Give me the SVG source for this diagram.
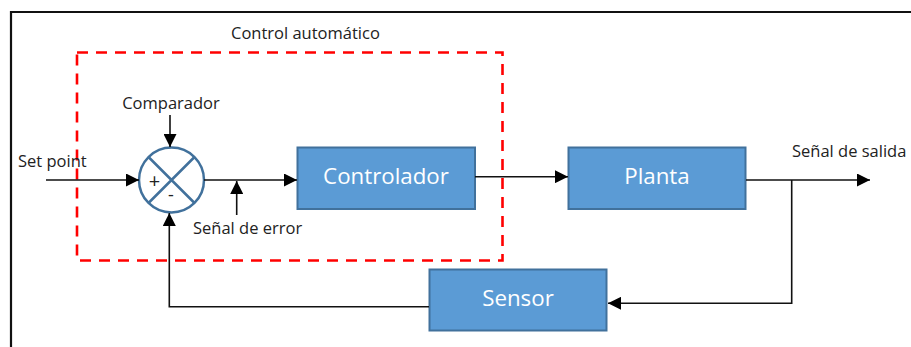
<svg xmlns="http://www.w3.org/2000/svg" width="911" height="347" viewBox="0 0 911 347">
  <style>
    .label { font-family: "Open Sans", "Liberation Sans", sans-serif; font-size: 16.5px; fill: #222; }
    .sign { font-family: "Open Sans", "Liberation Sans", sans-serif; fill: #222; text-anchor: middle; }
    .block { fill: #5B9BD5; stroke: #41719C; stroke-width: 2; }
    .block-text { font-family: "Open Sans", "Liberation Sans", sans-serif; font-size: 22.3px; fill: #fff; text-anchor: middle; }
    .wire { fill: none; stroke: #111; stroke-width: 1.6; }
  </style>
  <defs>
    <marker id="arrow" viewBox="0 0 10 10" refX="10" refY="5" markerWidth="13" markerHeight="13" markerUnits="userSpaceOnUse" orient="auto">
      <path d="M0,0 L10,5 L0,10 Z" fill="#000"/>
    </marker>
  </defs>

  <rect width="911" height="347" fill="#fff"/>
  <!-- outer frame -->
  <path d="M11,347 L11,12 L911,12" fill="none" stroke="#111" stroke-width="2.2"/>

  <!-- automatic control boundary -->
  <g id="control-automatico">
    <rect x="77" y="52.5" width="425.5" height="208" fill="none" stroke="#FF0000" stroke-width="2.6" stroke-dasharray="11,8"/>
    <text class="label" x="231" y="39">Control automático</text>
  </g>

  <!-- comparator -->
  <g id="comparador">
    <circle cx="171.5" cy="180" r="32.5" fill="#fff" stroke="#41719C" stroke-width="2.5"/>
    <path d="M148.5,157 L194.5,203 M194.5,157 L148.5,203" stroke="#41719C" stroke-width="2.5"/>
    <text class="sign" x="154.5" y="187.5" style="font-size:20px">+</text>
    <text class="sign" x="171" y="201" style="font-size:18px">-</text>
    <text class="label" x="171" y="109" text-anchor="middle">Comparador</text>
  </g>

  <g id="controlador">
    <rect class="block" x="297.5" y="147.5" width="177.5" height="61.5"/>
    <text class="block-text" x="386" y="184">Controlador</text>
  </g>

  <g id="planta">
    <rect class="block" x="568.5" y="147.5" width="177" height="61.5"/>
    <text class="block-text" x="657" y="184">Planta</text>
  </g>

  <g id="sensor">
    <rect class="block" x="429.5" y="269.5" width="177" height="61"/>
    <text class="block-text" x="518" y="306">Sensor</text>
  </g>

  <!-- signal labels -->
  <g id="labels">
    <text class="label" x="18" y="167">Set point</text>
    <text class="label" x="193" y="234">Señal de error</text>
    <text class="label" x="792" y="157">Señal de salida</text>
  </g>

  <!-- connectors -->
  <g id="connectors">
    <path class="wire" d="M46,180 L139,180" marker-end="url(#arrow)"/>
    <path class="wire" d="M170,115 L170,147" marker-end="url(#arrow)"/>
    <path class="wire" d="M204,180 L297,180" marker-end="url(#arrow)"/>
    <path class="wire" d="M236.7,215 L236.7,181" marker-end="url(#arrow)"/>
    <path class="wire" d="M475,176.7 L568,176.7" marker-end="url(#arrow)"/>
    <path class="wire" d="M746,180 L870,180" marker-end="url(#arrow)"/>
    <path class="wire" d="M791.7,180 L791.7,303.3 L608,303.3" marker-end="url(#arrow)"/>
    <path class="wire" d="M429,306.7 L169.3,306.7 L169.3,213" marker-end="url(#arrow)"/>
  </g>
</svg>
